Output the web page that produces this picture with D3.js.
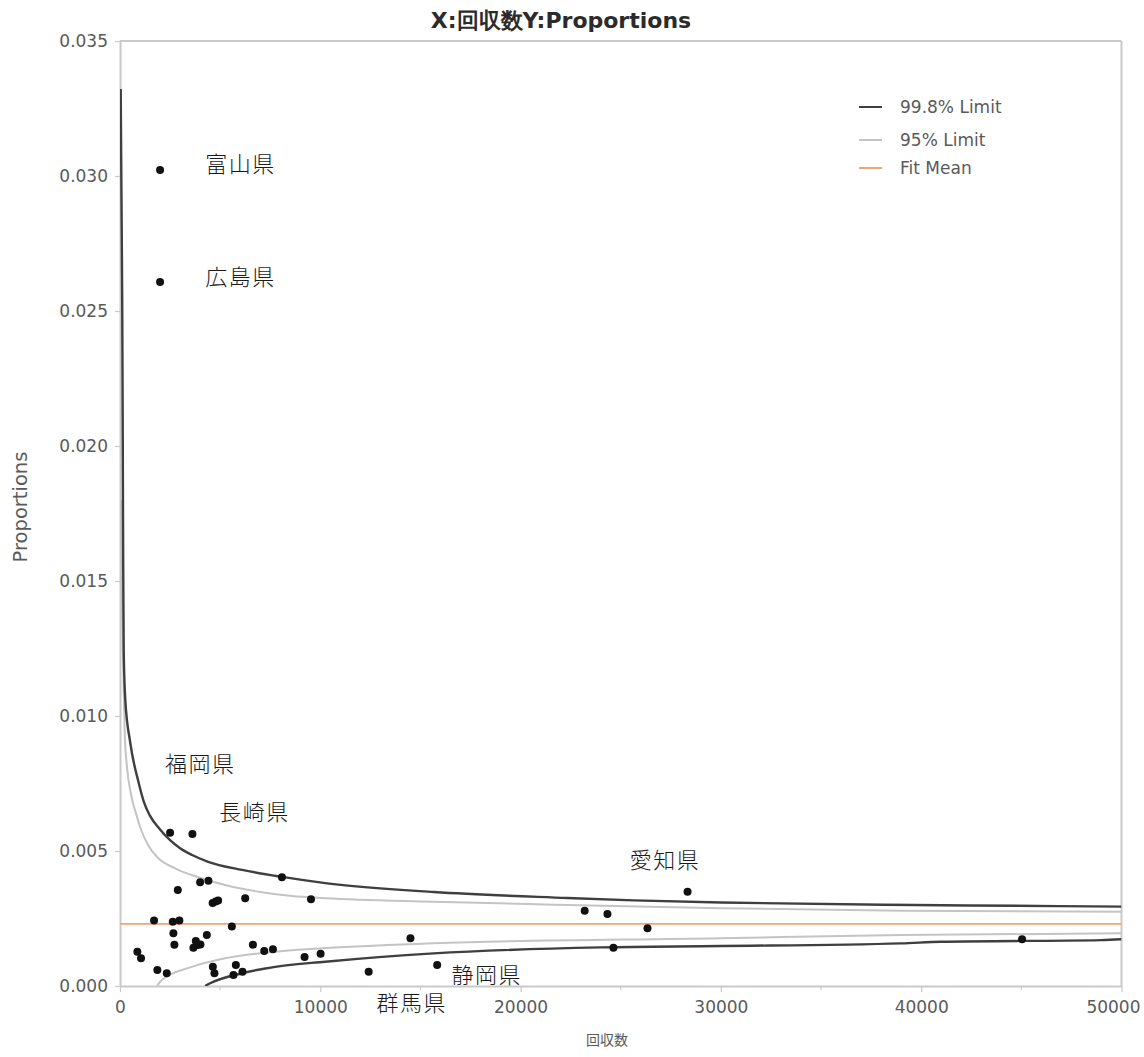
<!DOCTYPE html>
<html>
<head>
<meta charset="utf-8">
<script src="https://cdn.jsdelivr.net/npm/d3@7"></script>
<style>
  body { margin: 0; background: #fff; }
  svg { display: block; }
</style>
</head>
<body>
<svg id="chart"></svg>
<script>
// ---- data --------------------------------------------------------------
// 回収数 (sample size) and observed proportion for each prefecture
const counts = [
  2000, 2000, 2500, 3615, 8085, 2885, 4000, 4415, 4625, 4775,
  4900, 6250, 9535, 1700, 2635, 2965, 5585, 2665, 2715, 4335,
  3665, 3785, 4015, 3875, 6635, 7200, 7635, 9215, 10015, 865,
  1050, 1865, 2335, 4635, 4715, 5785, 5665, 6115, 12415, 14500,
  15835, 23200, 24335, 26335, 24635, 28335, 45035
];
const proportions = [
  0.03022, 0.02607, 0.00568, 0.00563, 0.00403, 0.00356, 0.00384, 0.00390, 0.00307, 0.00313,
  0.00317, 0.00325, 0.00321, 0.00243, 0.00238, 0.00243, 0.00220, 0.00195, 0.00153, 0.00189,
  0.00142, 0.00167, 0.00154, 0.00152, 0.00153, 0.00130, 0.00136, 0.00107, 0.00119, 0.00127,
  0.00103, 0.00059, 0.00047, 0.00071, 0.00047, 0.00078, 0.00041, 0.00053, 0.00053, 0.00177,
  0.00078, 0.00279, 0.00267, 0.00214, 0.00142, 0.00349, 0.00173
];

// fitted mean proportion
const fitMean = 0.0023;

// funnel limits (sample size, proportion)
const upper998N = [35, 75, 110, 135, 160, 185, 265, 515, 935, 1200, 1500, 2000, 2500, 3000, 3600, 4400, 6100, 8100, 10250, 15665, 22335, 25650, 30000, 39650, 46835, 50000];
const upper998P = [0.03322, 0.02911, 0.02541, 0.02096, 0.01556, 0.01244, 0.01059, 0.00900, 0.00752, 0.00680, 0.00630, 0.00580, 0.00540, 0.00510, 0.00485, 0.00460, 0.00430, 0.00404, 0.00381, 0.00348, 0.00326, 0.00317, 0.00309, 0.00300, 0.00296, 0.00294];
const lower998N = [4250, 4500, 6085, 7750, 10250, 15665, 24000, 30000, 39000, 41000, 49000, 50000];
const lower998P = [0, 0.00010, 0.00047, 0.00071, 0.00090, 0.00121, 0.00143, 0.00148, 0.00158, 0.00164, 0.00170, 0.00173];
const upper95N = [50, 100, 175, 235, 350, 550, 835, 1000, 1415, 1915, 2750, 3585, 5250, 6915, 8585, 10250, 15650, 22335, 30000, 39000, 50000];
const upper95P = [0.01800, 0.01430, 0.01133, 0.00937, 0.00810, 0.00710, 0.00630, 0.00590, 0.00520, 0.00473, 0.00436, 0.00411, 0.00374, 0.00349, 0.00333, 0.00325, 0.00312, 0.00300, 0.00288, 0.00279, 0.00275];
const lower95N = [1850, 2085, 3585, 5250, 7750, 10085, 15650, 30000, 39000, 50000];
const lower95P = [0, 0.00022, 0.00071, 0.00103, 0.00127, 0.00140, 0.00158, 0.00177, 0.00189, 0.00195];

// prefecture annotations, anchored in data units
const noteNames = ["富山県", "広島県", "福岡県", "長崎県", "愛知県", "静岡県", "群馬県"];
const noteN = [4250, 4250, 2250, 4950, 25450, 16550, 12800];
const noteP = [0.03044, 0.02626, 0.00822, 0.00644, 0.00467, 0.00041, -0.00065];

// axes
const yTicks = [0, 0.005, 0.010, 0.015, 0.020, 0.025, 0.030, 0.035];
const xTicks = [0, 10000, 20000, 30000, 40000, 50000];
const xMinorTicks = [5000, 15000, 25000, 35000, 45000];
const titleText = "X:回収数Y:Proportions";
const xTitle = "回収数";
const yTitle = "Proportions";
const legendLabels = ["99.8% Limit", "95% Limit", "Fit Mean"];

// ---- layout ------------------------------------------------------------
const W = 1144, H = 1057;
const plotLeft = 120, plotRight = 1121.5, plotTop = 41, plotBottom = 986;
const axisColor = "#c9c9c9";
const textColor = "#5a5a5a";
const sansFont = "'DejaVu Sans', Verdana, sans-serif";
const cjkFont = "'Noto Sans CJK JP', 'Noto Sans CJK SC', sans-serif";
const limit998Color = "#3f3f3f";
const limit95Color = "#c4c4c4";
const meanColor = "#f4a470";

const svg = d3.select("#chart").attr("width", W).attr("height", H);
svg.append("rect").attr("width", W).attr("height", H).attr("fill", "#fff");

const x = d3.scaleLinear().domain([0, 50000]).range([plotLeft, plotRight]);
const y = d3.scaleLinear().domain([0, 0.035]).range([plotBottom, plotTop]);

// clip for plot contents
svg.append("defs").append("clipPath").attr("id", "plot-clip")
  .append("rect").attr("x", plotLeft).attr("y", plotTop)
  .attr("width", plotRight - plotLeft).attr("height", plotBottom - plotTop);

// frame (top and right edges)
svg.append("line").attr("x1", plotLeft).attr("x2", plotRight).attr("y1", plotTop).attr("y2", plotTop)
  .attr("stroke", axisColor).attr("stroke-width", 2);
svg.append("line").attr("x1", plotRight).attr("x2", plotRight).attr("y1", plotTop).attr("y2", plotBottom)
  .attr("stroke", axisColor).attr("stroke-width", 2);

// y axis
const yAxis = svg.append("g").attr("transform", `translate(${plotLeft},0)`)
  .call(d3.axisLeft(y).tickValues(yTicks).tickFormat(d3.format(".3f")).tickSize(5).tickSizeOuter(0).tickPadding(7));
// x axis
const xAxis = svg.append("g").attr("transform", `translate(0,${plotBottom})`)
  .call(d3.axisBottom(x).tickValues(xTicks).tickFormat(d3.format("d")).tickSize(6).tickSizeOuter(0).tickPadding(9));
// minor x ticks
svg.append("g").attr("transform", `translate(0,${plotBottom})`)
  .selectAll("line").data(xMinorTicks).join("line")
  .attr("x1", d => x(d)).attr("x2", d => x(d)).attr("y1", 0).attr("y2", 4)
  .attr("stroke", axisColor).attr("stroke-width", 1.2);

[yAxis, xAxis].forEach(g => {
  g.select(".domain").attr("stroke", axisColor).attr("stroke-width", 2);
  g.selectAll(".tick line").attr("stroke", axisColor).attr("stroke-width", 1.2);
  g.selectAll(".tick text").attr("fill", textColor)
    .style("font-family", sansFont).style("font-size", "17px");
});
// keep the last x label inside the canvas
xAxis.selectAll(".tick").filter(d => d === xTicks[xTicks.length - 1])
  .select("text").attr("text-anchor", "end").attr("x", W - 4 - x(xTicks[xTicks.length - 1]));

// limit lines and fit mean
const plot = svg.append("g").attr("clip-path", "url(#plot-clip)");
const line = d3.line().x(d => x(d[0])).y(d => y(d[1])).curve(d3.curveMonotoneX);
const zip = (a, b) => a.map((v, i) => [v, b[i]]);

const curves = [
  { n: lower95N, p: lower95P, color: limit95Color, w: 2 },
  { n: upper95N, p: upper95P, color: limit95Color, w: 2 },
  { n: lower998N, p: lower998P, color: limit998Color, w: 2.4 },
  { n: upper998N, p: upper998P, color: limit998Color, w: 2.4 }
];
plot.selectAll("path.limit").data(curves).join("path")
  .attr("class", "limit")
  .attr("d", c => line(zip(c.n, c.p)))
  .attr("fill", "none")
  .attr("stroke", c => c.color)
  .attr("stroke-width", c => c.w)
  .attr("stroke-linejoin", "round");

plot.append("line")
  .attr("x1", x(0)).attr("x2", x(50000))
  .attr("y1", y(fitMean)).attr("y2", y(fitMean))
  .attr("stroke", meanColor).attr("stroke-width", 1.8);

// points
plot.selectAll("circle").data(zip(counts, proportions)).join("circle")
  .attr("cx", d => x(d[0])).attr("cy", d => y(d[1]))
  .attr("r", 4).attr("fill", "#111");

// prefecture annotations
svg.append("g").selectAll("text").data(noteNames).join("text")
  .attr("x", (d, i) => x(noteN[i]))
  .attr("y", (d, i) => y(noteP[i]))
  .attr("dy", "0.36em")
  .attr("fill", "#1a1a1a")
  .style("font-family", cjkFont)
  .style("font-size", "22px")
  .style("font-weight", 300)
  .style("letter-spacing", "1.5px")
  .text(d => d);

// title
svg.append("text")
  .attr("x", 561).attr("y", 20).attr("dy", "0.36em")
  .attr("text-anchor", "middle")
  .attr("fill", "#2b2b2b")
  .style("font-family", sansFont)
  .style("font-size", "22px").style("font-weight", "bold")
  .text(titleText);

// axis titles
svg.append("text")
  .attr("transform", "translate(20,507) rotate(-90)")
  .attr("text-anchor", "middle").attr("dy", "0.36em")
  .attr("fill", textColor)
  .style("font-family", sansFont).style("font-size", "19.5px")
  .text(yTitle);
svg.append("text")
  .attr("x", 607).attr("y", 1040).attr("dy", "0.36em")
  .attr("text-anchor", "middle")
  .attr("fill", textColor)
  .style("font-family", cjkFont).style("font-size", "14px")
  .text(xTitle);

// legend
const legendColors = [limit998Color, limit95Color, meanColor];
const legendY = [107, 140, 168];
const legend = svg.append("g");
legend.selectAll("line").data(legendLabels).join("line")
  .attr("x1", 859).attr("x2", 882)
  .attr("y1", (d, i) => legendY[i]).attr("y2", (d, i) => legendY[i])
  .attr("stroke", (d, i) => legendColors[i]).attr("stroke-width", 2);
legend.selectAll("text").data(legendLabels).join("text")
  .attr("x", 900).attr("y", (d, i) => legendY[i]).attr("dy", "0.36em")
  .attr("fill", textColor)
  .style("font-family", sansFont).style("font-size", "17px")
  .text(d => d);
</script>
</body>
</html>
